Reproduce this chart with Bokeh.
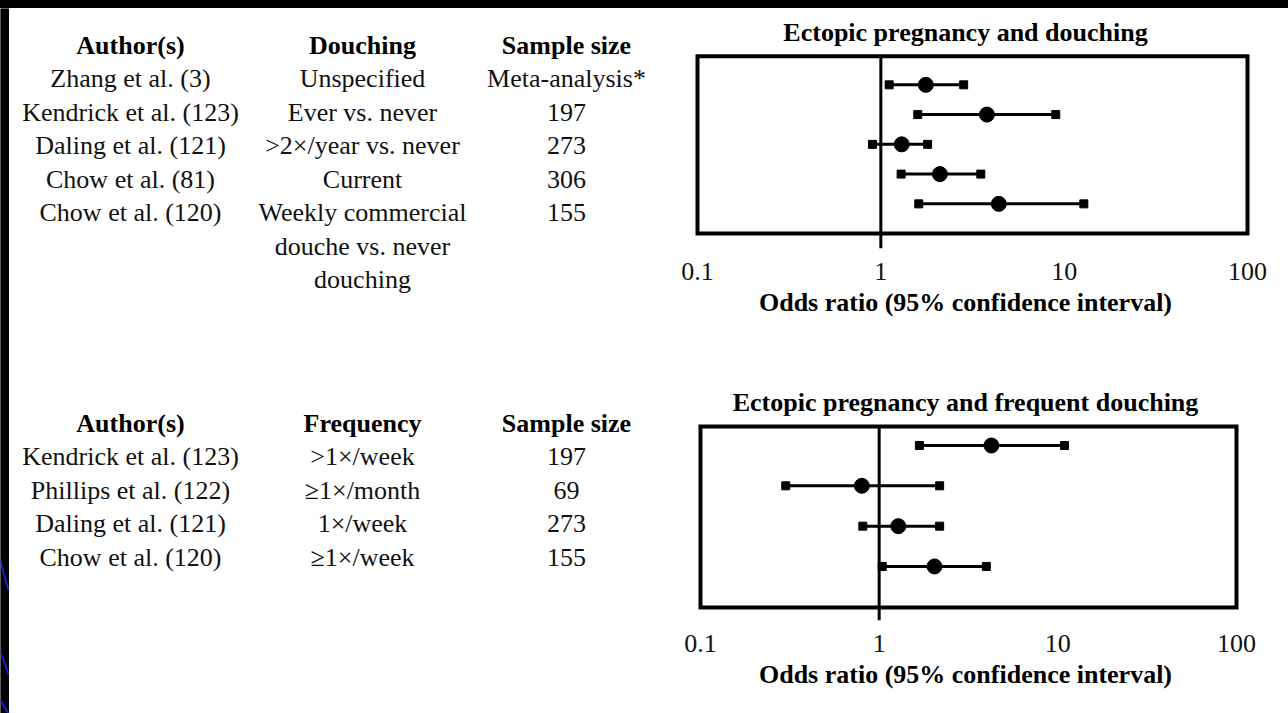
from bokeh.plotting import figure
from bokeh.layouts import column, row
from bokeh.models import Range1d, FixedTicker, Div, ColumnDataSource
from bokeh.core.properties import value
from bokeh.embed import file_html
from bokeh.resources import INLINE

# ---------------- data ----------------
headers_1 = ["Author(s)", "Douching", "Sample size"]
authors_1 = ["Zhang et al. (3)", "Kendrick et al. (123)", "Daling et al. (121)",
             "Chow et al. (81)", "Chow et al. (120)"]
douching_1 = ["Unspecified", "Ever vs. never", ">2\u00d7/year vs. never", "Current",
              "Weekly commercial\ndouche vs. never\ndouching"]
sizes_1 = ["Meta-analysis*", "197", "273", "306", "155"]
or_1 = [1.76, 3.79, 1.30, 2.10, 4.40]
lo_1 = [1.11, 1.59, 0.90, 1.29, 1.61]
hi_1 = [2.83, 9.0, 1.80, 3.51, 12.8]
title_1 = "Ectopic pregnancy and douching"

headers_2 = ["Author(s)", "Frequency", "Sample size"]
authors_2 = ["Kendrick et al. (123)", "Phillips et al. (122)", "Daling et al. (121)",
             "Chow et al. (120)"]
freq_2 = [">1\u00d7/week", "\u22651\u00d7/month", "1\u00d7/week", "\u22651\u00d7/week"]
sizes_2 = ["197", "69", "273", "155"]
or_2 = [4.25, 0.80, 1.28, 2.04]
lo_2 = [1.68, 0.30, 0.81, 1.04]
hi_2 = [10.9, 2.18, 2.18, 3.98]
title_2 = "Ectopic pregnancy and frequent douching"

tick_values = [0.1, 1, 10, 100]
tick_labels = ["0.1", "1", "10", "100"]
x_label = "Odds ratio (95% confidence interval)"

FONT_NAME = "Liberation Serif, Times New Roman, Tinos, Times, serif"
FONT = value(FONT_NAME)
FS = value("26px")

# ---------------- left: tables ----------------
W_LEFT = 660
left = figure(width=W_LEFT, height=705, x_range=Range1d(0, W_LEFT), y_range=Range1d(713, 8),
              output_backend="svg", toolbar_location=None, min_border=0)
left.axis.visible = False
left.grid.visible = False
left.outline_line_color = None
left.background_fill_color = "white"
left.border_fill_color = "white"

# slide decoration: black left band with blue curves
left.quad(left=[0], right=[8], top=[8], bottom=[713], color="black")
left.multi_line(xs=[[0, 3, 8], [0, 4, 8], [0, 8]], ys=[[560, 572, 590], [652, 662, 674], [700, 713]],
                line_color="#1c1cd0", line_width=2)

col_x = [130, 362, 566]


def table(headers, cols, y_head, y0, dy):
    hx, hy, ht = [], [], []
    for cx, h in zip(col_x, headers):
        hx.append(cx); hy.append(y_head); ht.append(h)
    left.text(x=hx, y=hy, text=ht, text_font=FONT, text_font_size=FS, text_font_style="bold",
              text_align="center", text_baseline="middle", text_color="black")
    tx, ty, tt = [], [], []
    for cx, vals in zip(col_x, cols):
        for i, v in enumerate(vals):
            for k, line in enumerate(v.split("\n")):
                tx.append(cx); ty.append(y0 + (i + k) * dy); tt.append(line)
    left.text(x=tx, y=ty, text=tt, text_font=FONT, text_font_size=FS,
              text_align="center", text_baseline="middle", text_color="#111111")


table(headers_1, [authors_1, douching_1, sizes_1], 45, 78, 33.5)
table(headers_2, [authors_2, freq_2, sizes_2], 423, 456, 33.6)

# common plot-frame borders (frames of stacked plots are aligned by the layout)
MB_L, MB_R = 16, 34   # frame spans page x 676..1254


def forest(title, ors, los, his, height, x_lo, x_hi, y_rng, box_y, line_bottom, mb_top, mb_bottom):
    n = len(ors)
    p = figure(width=1288 - W_LEFT, height=height, x_axis_type="log",
               x_range=Range1d(x_lo, x_hi), y_range=Range1d(*y_rng),
               output_backend="svg", toolbar_location=None,
               min_border_left=MB_L, min_border_right=MB_R,
               min_border_top=mb_top, min_border_bottom=mb_bottom)
    p.yaxis.visible = False
    p.grid.visible = False
    p.outline_line_color = None
    p.background_fill_color = "white"
    p.border_fill_color = "white"

    p.title.text = title
    p.title.text_font = FONT_NAME
    p.title.text_font_size = "26px"
    p.title.text_font_style = "bold"
    p.title.align = "center"
    p.title.standoff = 10
    p.title.text_color = "black"

    ax = p.xaxis[0]
    ax.ticker = FixedTicker(ticks=tick_values)
    ax.major_label_overrides = {v: s for v, s in zip(tick_values, tick_labels)}
    ax.axis_line_color = None
    ax.major_tick_line_color = None
    ax.minor_tick_line_color = None
    ax.major_tick_out = 0
    ax.major_tick_in = 0
    ax.major_label_standoff = 14
    ax.major_label_text_font = FONT_NAME
    ax.major_label_text_font_size = "26px"
    ax.major_label_text_color = "#111111"
    ax.axis_label = x_label
    ax.axis_label_text_font = FONT_NAME
    ax.axis_label_text_font_size = "26px"
    ax.axis_label_text_font_style = "bold"
    ax.axis_label_text_color = "black"
    ax.axis_label_standoff = 5

    # plot box
    p.quad(left=[tick_values[0]], right=[tick_values[-1]], top=[box_y[0]], bottom=[box_y[1]],
           fill_color=None, line_color="black", line_width=4, line_join="miter")
    # reference line at OR = 1
    p.segment(x0=[1], x1=[1], y0=[box_y[0]], y1=[line_bottom], line_color="black", line_width=3)

    ys = list(range(n))
    src = ColumnDataSource(dict(y=ys, o=ors, lo=los, hi=his))
    p.segment(x0="lo", x1="hi", y0="y", y1="y", source=src, line_color="black", line_width=3)
    p.scatter(x="lo", y="y", source=src, marker="square", size=8, color="black")
    p.scatter(x="hi", y="y", source=src, marker="square", size=8, color="black")
    p.scatter(x="o", y="y", source=src, marker="circle", size=15, color="black")
    return p


# top: 0.1 at page x 697, 100 at 1247 (183.3 px/decade); frame y 51..248
d1 = 183.3
top = forest(title_1, or_1, lo_1, hi_1, 362,
             10 ** (-1 - (697 - 676) / d1), 10 ** (2 + (1254 - 1247) / d1),
             (5.50, -1.12), (-0.96, 5.0), 5.50, 43, 122)

# bottom: 0.1 at page x 700, 100 at 1236 (178.7 px/decade); frame y 421..620
d2 = 178.7
bottom = forest(title_2, or_2, lo_2, hi_2, 343,
                10 ** (-1 - (700 - 676) / d2), 10 ** (2 + (1254 - 1236) / d2),
                (4.34, -0.595), (-0.47, 4.02), 4.34, 51, 93)

band = Div(width=1288, height=8, margin=(0, 0, 0, 0), styles={"background-color": "black"})
layout = column(band, row(left, column(top, bottom)))

open("out.html", "w").write(file_html(layout, INLINE))
